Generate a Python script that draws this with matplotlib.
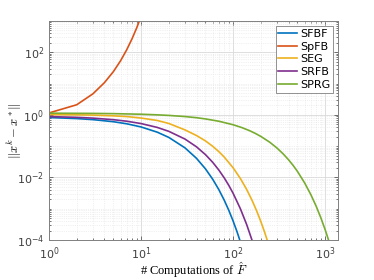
import numpy as np
import matplotlib
matplotlib.use("Agg")
import matplotlib.pyplot as plt
from matplotlib.ticker import LogLocator, NullFormatter

# Datos
k_sfbf = [1, 2, 3, 5, 7, 10, 15, 20, 30, 40, 50, 60, 70, 80, 90, 100, 110, 120]
y_sfbf = [0.82, 0.759, 0.703, 0.603, 0.517, 0.41, 0.279, 0.19, 0.0879, 0.0407, 0.0188,
          0.00873, 0.00404, 0.00187, 0.000867, 0.000401, 0.000186, 0.000086]

k_spfb = [1, 2, 3, 4, 5, 6, 7, 8, 9, 10]
y_spfb = [1.15, 2.1, 4.7, 10.7, 24, 54, 122, 275, 620, 1400]

k_seg = [1, 2, 3, 5, 7, 10, 15, 20, 30, 40, 50, 60, 70, 80, 100, 120, 140, 160, 180, 200, 220, 240]
y_seg = [1.02, 1.0, 0.98, 0.93, 0.88, 0.79, 0.66, 0.53, 0.33, 0.218, 0.147, 0.0987, 0.0664,
         0.0447, 0.0202, 0.00917, 0.00415, 0.00188, 0.000852, 0.000386, 0.000175, 0.0000792]

k_srfb = [1, 2, 3, 5, 7, 10, 15, 20, 30, 40, 50, 60, 70, 80, 90, 100, 120, 140, 160]
y_srfb = [0.88, 0.831, 0.785, 0.70, 0.625, 0.526, 0.396, 0.297, 0.168, 0.0949, 0.0536,
          0.0303, 0.0171, 0.00967, 0.00546, 0.00309, 0.000986, 0.000315, 0.0001]

k_sprg = [1, 3, 5, 10, 15, 20, 30, 40, 50, 70, 100, 125, 150, 175, 200, 250, 300, 350, 400,
          450, 500, 600, 700, 800, 900, 1000, 1100]
y_sprg = [1.13, 1.111, 1.092, 1.046, 1.0, 0.959, 0.881, 0.81, 0.741, 0.624, 0.482, 0.389,
          0.314, 0.253, 0.204, 0.133, 0.0864, 0.0562, 0.0365, 0.0238, 0.01546, 0.00654,
          0.00277, 0.001172, 0.000496, 0.00021, 0.0000888]

nombres = ["SFBF", "SpFB", "SEG", "SRFB", "SPRG"]
colores = ["#0072BD", "#D95319", "#EDB120", "#7E2F8E", "#77AC30"]

plt.rcParams['mathtext.fontset'] = 'cm'

fig = plt.figure(figsize=(3.74, 2.8), dpi=100)
ax = fig.add_axes([0.131, 0.143, 0.773, 0.782])

series = [(k_sfbf, y_sfbf), (k_spfb, y_spfb), (k_seg, y_seg), (k_srfb, y_srfb), (k_sprg, y_sprg)]
for (k, y), nom, col in zip(series, nombres, colores):
    ax.plot(k, y, color=col, lw=1.2, label=nom)

ax.set_xscale("log")
ax.set_yscale("log")
ax.set_xlim(1, 1380)
ax.set_ylim(1e-4, 1e3)

ax.set_xticks([1, 10, 100, 1000])
ax.set_yticks([1e-4, 1e-2, 1, 1e2])
ax.xaxis.set_minor_locator(LogLocator(base=10, subs=np.arange(1, 10), numticks=20))
ax.yaxis.set_minor_locator(LogLocator(base=10, subs=np.arange(1, 10), numticks=20))
ax.xaxis.set_minor_formatter(NullFormatter())
ax.yaxis.set_minor_formatter(NullFormatter())

ax.grid(True, which="major", color="#d9d9d9", lw=0.6)
ax.grid(True, which="minor", color="#e3e3e3", lw=0.5, ls=":")
ax.set_axisbelow(True)

for s in ax.spines.values():
    s.set_color("#808080")
    s.set_linewidth(0.7)
ax.tick_params(which="both", direction="in", top=True, right=True, colors="#404040",
               labelsize=8, width=0.5)
ax.tick_params(which="major", length=3)
ax.tick_params(which="minor", length=1.5)
ax.tick_params(axis="x", pad=4)

ax.set_xlabel(r"# Computations of $\hat{F}$", family="Liberation Serif", fontsize=9)
ax.set_ylabel(r"$\|x^k - x^*\|$", fontsize=9)
ax.xaxis.set_label_coords(0.5, -0.095)
ax.yaxis.set_label_coords(-0.088, 0.5)

leg = ax.legend(loc="upper right", fontsize=8, handlelength=1.7, handletextpad=0.25,
                borderpad=0.25, labelspacing=0.25, fancybox=False, framealpha=1,
                borderaxespad=0.45)
leg.get_frame().set_edgecolor("#808080")
leg.get_frame().set_linewidth(0.6)

fig.savefig("out.png", dpi=100)
